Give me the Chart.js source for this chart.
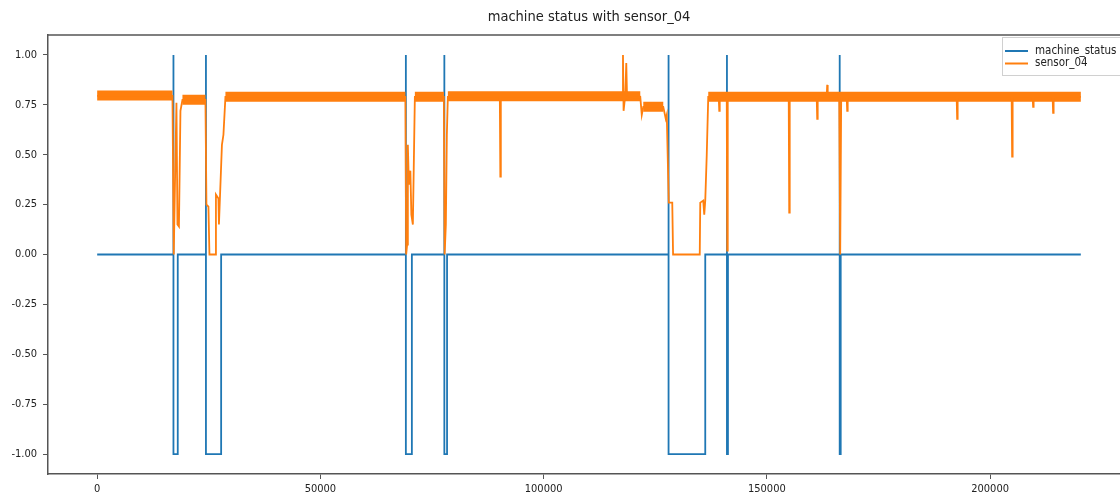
<!DOCTYPE html>
<html>
<head>
<meta charset="utf-8">
<script src="https://cdn.jsdelivr.net/npm/chart.js@4.4.1/dist/chart.umd.min.js"></script>
<style>
  html, body { margin: 0; padding: 0; background: #fff; overflow: hidden; }
  #wrap { width: 1135px; height: 495px; }
</style>
</head>
<body>
<div id="wrap"><canvas id="statusChart" width="1135" height="495"></canvas></div>
<script>
// machine_status: 0 normal, 1 broken, -1 recovering
var statusIdx = [0,
  17083, 17084, 17085, 18046, 18047,
  24359, 24360, 24361, 27764, 27765,
  69139, 69140, 69141, 70484, 70485,
  77759, 77760, 77761, 78365, 78366,
  127980, 127981, 127982, 136198, 136199,
  141056, 141057, 141058, 141281, 141282,
  166312, 166313, 166314, 166537, 166538,
  220319];
var statusVal = [0,
  0, 1, -1, -1, 0,
  0, 1, -1, -1, 0,
  0, 1, -1, -1, 0,
  0, 1, -1, -1, 0,
  0, 1, -1, -1, 0,
  0, 1, -1, -1, 0,
  0, 1, -1, -1, 0,
  0];

// sensor_04 trace (drops and spikes)
var sensorIdx = [0, 16860, 17151, 17419, 17755, 17979, 18315, 18651, 19099,
  24248, 24473, 24920, 25144, 26487, 26599, 27159, 27271, 27943, 28279, 28726,
  69028, 69208, 69431, 69588, 69812, 70148, 70372, 70708, 71155,
  77649, 77828, 78096, 78320, 78544,
  90187, 90299, 90411,
  117615, 117771, 117906, 118286, 118510, 118689,
  121645, 121981, 122317, 126795, 127354, 127578, 128026, 128810, 128989,
  134967, 135079, 135751, 135974, 136198, 136534, 136870,
  139221, 139333, 139445,
  141012, 141124, 141236,
  154894, 155006, 155118,
  161163, 161275, 161387,
  163402, 163514, 163626,
  166201, 166425, 166649,
  167880, 167992, 168104,
  192509, 192621, 192733,
  204824, 204936, 205048,
  209526, 209638, 209750,
  214004, 214116, 214228,
  220319];
var sensorVal = [0.795, 0.795, 0.0, 0.35, 0.76, 0.15, 0.14, 0.72, 0.775,
  0.775, 0.25, 0.24, 0.0, 0.0, 0.3, 0.28, 0.15, 0.55, 0.6, 0.79,
  0.79, 0.0, 0.05, 0.55, 0.35, 0.42, 0.2, 0.15, 0.79,
  0.79, 0.0, 0.15, 0.6, 0.79,
  0.79, 0.39, 0.79,
  0.79, 1.0, 0.72, 0.8, 0.96, 0.78,
  0.79, 0.7, 0.74, 0.74, 0.68, 0.7, 0.26, 0.26, 0.0,
  0.0, 0.26, 0.27, 0.2, 0.27, 0.5, 0.79,
  0.79, 0.72, 0.79,
  0.79, 0.02, 0.79,
  0.79, 0.21, 0.79,
  0.79, 0.68, 0.79,
  0.79, 0.85, 0.79,
  0.79, 0.0, 0.79,
  0.79, 0.72, 0.79,
  0.79, 0.68, 0.79,
  0.79, 0.49, 0.79,
  0.79, 0.74, 0.79,
  0.79, 0.71, 0.79,
  0.79];

// noisy band of sensor_04 while running
var bandStart = [0, 19099, 28726, 71155, 78544, 122317, 136870];
var bandEnd = [16860, 24248, 69028, 77649, 121645, 126795, 220319];
var bandLevel = [0.797, 0.775, 0.79, 0.79, 0.793, 0.74, 0.79];

var yTicks = [-1, -0.75, -0.5, -0.25, 0, 0.25, 0.5, 0.75, 1];
var xTicks = [0, 50000, 100000, 150000, 200000];

var FONT = '"DejaVu Sans Condensed", "Liberation Sans Narrow", "DejaVu Sans", sans-serif';
var BLUE = '#1f77b4';
var ORANGE = '#ff7f0e';
var SPINE = '#555';

function toPoints(xs, ys) {
  return xs.map(function(x, i) { return { x: x, y: ys[i] }; });
}

var bandPts = [];
bandStart.forEach(function(s, i) {
  bandPts.push({ x: s, y: bandLevel[i] });
  bandPts.push({ x: bandEnd[i], y: bandLevel[i] });
  bandPts.push({ x: bandEnd[i] + 1, y: null });
});

var spines = {
  id: 'spines',
  afterDraw: function(chart) {
    var a = chart.chartArea, c = chart.ctx;
    c.save();
    c.strokeStyle = SPINE;
    c.lineWidth = 1.5;
    c.beginPath();
    c.moveTo(a.left, a.top);
    c.lineTo(a.right, a.top);
    c.lineTo(a.right, a.bottom);
    c.stroke();
    c.restore();
  }
};

var boxLegend = {
  id: 'boxLegend',
  afterDraw: function(chart) {
    var c = chart.ctx;
    var items = [{ label: 'machine_status', color: BLUE }, { label: 'sensor_04', color: ORANGE }];
    c.save();
    c.fillStyle = 'rgba(255,255,255,0.85)';
    c.strokeStyle = '#d0d0d0';
    c.lineWidth = 1;
    c.fillRect(1002, 37, 140, 38);
    c.strokeRect(1002.5, 37.5, 140, 38);
    c.font = '11.5px ' + FONT;
    c.textBaseline = 'middle';
    items.forEach(function(it, i) {
      var y = 51 + i * 12.5;
      c.strokeStyle = it.color;
      c.lineWidth = 2;
      c.beginPath();
      c.moveTo(1005, y);
      c.lineTo(1028, y);
      c.stroke();
      c.fillStyle = '#222';
      c.fillText(it.label, 1035, y);
    });
    c.restore();
  }
};

var ctx = document.getElementById('statusChart').getContext('2d');
var statusChart = new Chart(ctx, {
  type: 'line',
  data: {
    datasets: [{
      label: 'machine_status',
      data: toPoints(statusIdx, statusVal),
      borderColor: BLUE,
      borderWidth: 1.8,
      order: 3
    }, {
      label: 'sensor_04 band',
      data: bandPts,
      borderColor: ORANGE,
      borderWidth: 10,
      spanGaps: false,
      order: 2
    }, {
      label: 'sensor_04',
      data: toPoints(sensorIdx, sensorVal),
      borderColor: ORANGE,
      borderWidth: 1.8,
      order: 1
    }]
  },
  options: {
    responsive: false,
    animation: false,
    devicePixelRatio: 1,
    elements: {
      point: { radius: 0, hoverRadius: 0 },
      line: { tension: 0, borderCapStyle: 'butt', borderJoinStyle: 'miter' }
    },
    layout: { padding: { left: 0, right: 5, top: 0, bottom: 0 } },
    plugins: {
      legend: { display: false },
      tooltip: { enabled: false },
      title: {
        display: true,
        text: 'machine status with sensor_04',
        color: '#222',
        font: { family: FONT, size: 14.5, weight: 'normal' },
        padding: { top: 9, bottom: 8.6 },
        fullSize: false
      }
    },
    scales: {
      x: {
        type: 'linear',
        min: -11016,
        max: 231336,
        afterFit: function(s) { s.height = 21; },
        afterBuildTicks: function(s) { s.ticks = xTicks.map(function(v) { return { value: v }; }); },
        grid: { drawOnChartArea: false, drawTicks: true, tickLength: 5, color: SPINE },
        border: { display: true, color: SPINE, width: 1.5 },
        ticks: {
          color: '#222',
          font: { family: FONT, size: 11 },
          padding: 4,
          maxRotation: 0,
          callback: function(v) { return String(v); }
        }
      },
      y: {
        type: 'linear',
        min: -1.1,
        max: 1.1,
        afterFit: function(s) { s.width = 48; },
        afterBuildTicks: function(s) { s.ticks = yTicks.map(function(v) { return { value: v }; }); },
        grid: { drawOnChartArea: false, drawTicks: true, tickLength: 5, color: SPINE },
        border: { display: true, color: SPINE, width: 1.5 },
        ticks: {
          color: '#222',
          font: { family: FONT, size: 11 },
          padding: 6,
          callback: function(v) { return v.toFixed(2); }
        }
      }
    }
  },
  plugins: [spines, boxLegend]
});
</script>
</body>
</html>
